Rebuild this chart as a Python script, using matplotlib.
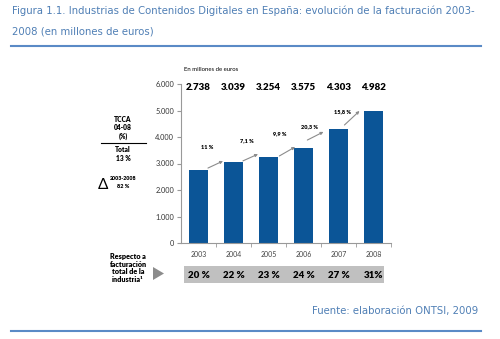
import matplotlib.pyplot as plt
from matplotlib.patches import Rectangle, Polygon

years = ['2003', '2004', '2005', '2006', '2007', '2008']
facturacion = [2738, 3039, 3254, 3575, 4303, 4982]
value_labels = ['2.738', '3.039', '3.254', '3.575', '4.303', '4.982']
growth_labels = ['11 %', '7,1 %', '9,9 %', '20,3 %', '15,8 %']
share_labels = ['20 %', '22 %', '23 %', '24 %', '27 %', '31%']

W, H = 500, 339
blue = '#0b5597'
text_blue = '#4f7fb5'
rule_blue = '#5a8ac6'
chart_font = ['Lato', 'DejaVu Sans']
bold = 'heavy'


def fx(px):
    return px / W


def fy(py):
    return 1 - py / H


fig = plt.figure(figsize=(5, 3.39), dpi=100)

# title and rules
fig.text(fx(12), fy(11), 'Figura 1.1. Industrias de Contenidos Digitales en España: evolución de la facturación 2003-',
         fontsize=7.28, color=text_blue, va='center', ha='left')
fig.text(fx(12), fy(32), '2008 (en millones de euros)', fontsize=7.28, color=text_blue, va='center', ha='left')
fig.add_artist(plt.Line2D([fx(11), fx(481)], [fy(46), fy(46)], color=rule_blue, lw=1.5))
fig.text(fx(478), fy(311), 'Fuente: elaboración ONTSI, 2009', fontsize=7.3, color=text_blue,
         va='center', ha='right')
fig.add_artist(plt.Line2D([fx(11), fx(481)], [fy(331), fy(331)], color=rule_blue, lw=1.5))

# main chart
ax = fig.add_axes([fx(181), fy(243), fx(391) - fx(181), (243 - 84) / H])
ax.patch.set_alpha(0)
x = list(range(len(years)))
ax.bar(x, facturacion, width=0.55, color=blue, zorder=2)
ax.set_xlim(-0.5, len(years) - 0.5)
ax.set_ylim(0, 6000)
ax.set_yticks([0, 1000, 2000, 3000, 4000, 5000, 6000])
ax.set_yticklabels(['0', '1.000', '2.000', '3.000', '4.000', '5.000', '6.000'],
                   fontsize=5.3, family=chart_font, color='#333333')
ax.set_xticks(x)
ax.set_xticklabels(years, fontsize=5, family=chart_font, color='#444444')
ax.set_xticks([i + 0.5 for i in x], minor=True)
ax.tick_params(axis='x', which='major', length=0, pad=6)
ax.tick_params(axis='x', which='minor', length=3, color='#999999')
ax.tick_params(axis='y', length=3, color='#999999', pad=2)
for s in ['top', 'right']:
    ax.spines[s].set_visible(False)
for s in ['left', 'bottom']:
    ax.spines[s].set_color('#999999')
    ax.spines[s].set_linewidth(0.8)

ax.text(-0.42, 6530, 'En millones de euros', fontsize=4.3, family=chart_font, ha='left', va='center')
for i, lab in enumerate(value_labels):
    ax.text(i, 5850, lab, fontsize=7, family=chart_font, fontweight=bold, ha='center', va='center')

# growth arrows (start/end offsets relative to the bars)
arrow_x0 = [0.27, 0.27, 0.31, 0.11, 0.17]
arrow_x1 = [0.70, 0.70, 0.76, 0.57, 0.60]
arrow_dy0 = [90, 60, 30, 310, 150]
arrow_dy1 = [55, 100, 50, -110, 0]
label_dx = [0.24, 0.39, 0.31, 0.17, 0.11]
label_dy = [850, 810, 860, 800, 640]
for i, lab in enumerate(growth_labels):
    ax.annotate('', xy=(i + arrow_x1[i], facturacion[i + 1] + arrow_dy1[i]),
                xytext=(i + arrow_x0[i], facturacion[i] + arrow_dy0[i]),
                arrowprops=dict(arrowstyle='-|>', color='#8c8c8c', lw=0.8, mutation_scale=4,
                                shrinkA=0, shrinkB=0))
    ax.text(i + label_dx[i], facturacion[i] + label_dy[i], lab, fontsize=4, family=chart_font,
            fontweight=bold, ha='center', va='center')

# share row
fig.add_artist(Rectangle((fx(184), fy(283)), fx(384) - fx(184), (283 - 266) / H,
                         facecolor='#c0c0c0', edgecolor='none', zorder=-1))
trans = ax.get_xaxis_transform()
for i, lab in enumerate(share_labels):
    ax.text(i, -(275 - 243) / (243 - 84), lab, transform=trans, fontsize=7, family=chart_font,
            fontweight=bold, ha='center', va='center')

fig.text(fx(128), fy(268), 'Respecto a\nfacturación\ntotal de la\nindustria\u00b9', fontsize=5.2,
         family=chart_font, fontweight=bold, ha='center', va='center', linespacing=1.15)
fig.add_artist(Polygon([(fx(153), fy(267)), (fx(153), fy(280)), (fx(164), fy(273.5))],
                       closed=True, facecolor='#8c8c8c', edgecolor='none'))

# left TCCA panel
fig.text(fx(123), fy(128), 'TCCA\n04-08\n(%)', fontsize=4.8, family=chart_font, fontweight=bold,
         ha='center', va='center', linespacing=1.25)
fig.add_artist(plt.Line2D([fx(101), fx(146)], [fy(143), fy(143)], color='black', lw=0.8))
fig.text(fx(123), fy(154), 'Total\n13 %', fontsize=4.8, family=chart_font, fontweight=bold,
         ha='center', va='center', linespacing=1.25)
fig.text(fx(103), fy(185), '\u0394', fontsize=11, family=chart_font, ha='center', va='center')
fig.text(fx(123), fy(179), '2003-2008', fontsize=3.8, family=chart_font, fontweight=bold,
         ha='center', va='center')
fig.text(fx(123), fy(187), '82 %', fontsize=4, family=chart_font, fontweight=bold,
         ha='center', va='center')

plt.savefig('out.png', dpi=100)
